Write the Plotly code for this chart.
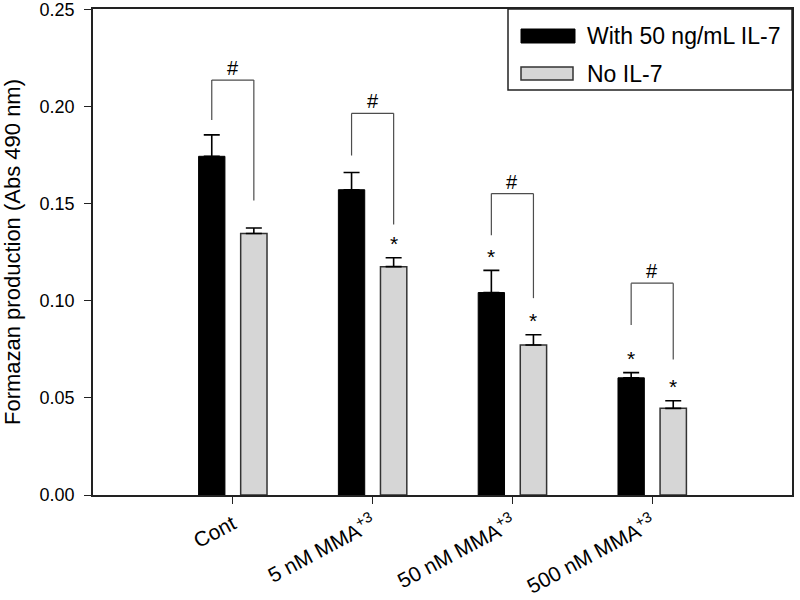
import plotly.graph_objects as go

# ---- data ----
categories = ["Cont", "5 nM MMA<sup>+3</sup>", "50 nM MMA<sup>+3</sup>", "500 nM MMA<sup>+3</sup>"]
series_names = ["With 50 ng/mL IL-7", "No IL-7"]
with_il7 = [0.1743, 0.1571, 0.1042, 0.0603]
with_il7_err = [0.0110, 0.0089, 0.0114, 0.0027]
no_il7 = [0.1346, 0.1175, 0.0772, 0.0446]
no_il7_err = [0.0028, 0.0046, 0.0053, 0.0039]
star_with = [False, False, True, True]
star_no = [False, True, True, True]
# bracket levels (data units): top bar, left leg end, right leg end
bracket_top = [0.2135, 0.1964, 0.1551, 0.1090]
bracket_left_end = [0.1930, 0.1747, 0.1337, 0.0875]
bracket_right_end = [0.1515, 0.1392, 0.1013, 0.0697]
y_ticks = [0.00, 0.05, 0.10, 0.15, 0.20, 0.25]

# ---- layout geometry ----
W, H = 800, 600
ML, MR, MT, MB = 93, 8, 9, 105
PW, PH = W - ML - MR, H - MT - MB
BARGAP = 0.398
BARGROUPGAP = 0.374
OFF = (1 - BARGAP) / 4  # center offset of each bar in a group

def px_x(px):
    return (px - ML) / PW

def px_y(py):
    return (H - MB - py) / PH

BLACK = "#000000"
GRAY = "#d6d6d6"
EDGE = "#333333"
BRACKET = "#4d4d4d"
FONT = "Liberation Sans, Arial, sans-serif"

fig = go.Figure()
fig.add_trace(go.Bar(
    x=categories, y=with_il7, name=series_names[0],
    marker=dict(color=BLACK, line=dict(color=BLACK, width=1)),
    error_y=dict(type="data", symmetric=False, array=with_il7_err,
                 arrayminus=[0] * len(with_il7_err),
                 color=BLACK, thickness=1.6, width=8),
    showlegend=False,
))
fig.add_trace(go.Bar(
    x=categories, y=no_il7, name=series_names[1],
    marker=dict(color=GRAY, line=dict(color=EDGE, width=1.5)),
    error_y=dict(type="data", symmetric=False, array=no_il7_err,
                 arrayminus=[0] * len(no_il7_err),
                 color=BLACK, thickness=1.6, width=8),
    showlegend=False,
))

shapes = []
annotations = []
for i in range(len(categories)):
    xl, xr = i - OFF, i + OFF
    line = dict(color=BRACKET, width=1.2)
    shapes.append(dict(type="line", xref="x", yref="y", x0=xl, x1=xl,
                       y0=bracket_left_end[i], y1=bracket_top[i], line=line))
    shapes.append(dict(type="line", xref="x", yref="y", x0=xl, x1=xr,
                       y0=bracket_top[i], y1=bracket_top[i], line=line))
    shapes.append(dict(type="line", xref="x", yref="y", x0=xr, x1=xr,
                       y0=bracket_right_end[i], y1=bracket_top[i], line=line))
    annotations.append(dict(x=i, y=bracket_top[i], xref="x", yref="y", text="#",
                            showarrow=False, yanchor="bottom", yshift=-1,
                            font=dict(family=FONT, size=20, color=BLACK)))
    if star_with[i]:
        annotations.append(dict(x=xl, y=with_il7[i] + with_il7_err[i], xref="x", yref="y",
                                text="*", showarrow=False, yanchor="middle", yshift=14,
                                font=dict(family=FONT, size=21, color=BLACK)))
    if star_no[i]:
        annotations.append(dict(x=xr, y=no_il7[i] + no_il7_err[i], xref="x", yref="y",
                                text="*", showarrow=False, yanchor="middle", yshift=14,
                                font=dict(family=FONT, size=21, color=BLACK)))

# custom legend (wide swatches)
shapes.append(dict(type="rect", xref="paper", yref="paper",
                   x0=px_x(508), x1=px_x(792), y0=px_y(90), y1=px_y(9),
                   line=dict(color="#222222", width=1.5), fillcolor="white", layer="above"))
shapes.append(dict(type="rect", xref="paper", yref="paper",
                   x0=px_x(521), x1=px_x(575), y0=px_y(43), y1=px_y(29),
                   line=dict(color=BLACK, width=1), fillcolor=BLACK, layer="above"))
shapes.append(dict(type="rect", xref="paper", yref="paper",
                   x0=px_x(521), x1=px_x(573), y0=px_y(80), y1=px_y(67),
                   line=dict(color=EDGE, width=1.5), fillcolor=GRAY, layer="above"))
annotations.append(dict(x=px_x(585), y=px_y(36), xref="paper", yref="paper",
                        text=series_names[0], showarrow=False, xanchor="left", yanchor="middle",
                        font=dict(family=FONT, size=23, color=BLACK)))
annotations.append(dict(x=px_x(585), y=px_y(73.5), xref="paper", yref="paper",
                        text=series_names[1], showarrow=False, xanchor="left", yanchor="middle",
                        font=dict(family=FONT, size=23, color=BLACK)))

fig.update_layout(
    width=W, height=H, autosize=False,
    margin=dict(l=ML, r=MR, t=MT, b=MB, pad=0, autoexpand=False),
    paper_bgcolor="white", plot_bgcolor="white",
    barmode="group", bargap=BARGAP, bargroupgap=BARGROUPGAP,
    font=dict(family=FONT, color=BLACK),
    shapes=shapes, annotations=annotations,
    xaxis=dict(
        type="category", range=[-1, 4], automargin=False,
        showline=True, linecolor="#222222", linewidth=1.5, mirror=True,
        ticks="outside", ticklen=7, tickwidth=1.2, tickcolor="#222222",
        tickangle=-28, tickfont=dict(family=FONT, size=21, color=BLACK),
        ticklabeloverflow="allow",
        showgrid=False, zeroline=False,
    ),
    yaxis=dict(
        range=[0, 0.2501], tickvals=y_ticks, tickformat=".2f", automargin=False,
        showline=True, linecolor="#222222", linewidth=1.5, mirror=True,
        ticks="outside", ticklen=7, tickwidth=1.2, tickcolor="#222222",
        ticklabelstandoff=6, ticklabeloverflow="allow",
        tickfont=dict(family=FONT, size=18, color=BLACK),
        title=dict(text="Formazan production (Abs 490 nm)", standoff=17,
                   font=dict(family=FONT, size=22, color=BLACK)),
        showgrid=False, zeroline=False,
    ),
)

fig.write_html("out.html", config={"displayModeBar": False},
               post_script="document.body.style.margin='0';document.body.style.overflow='hidden';")
